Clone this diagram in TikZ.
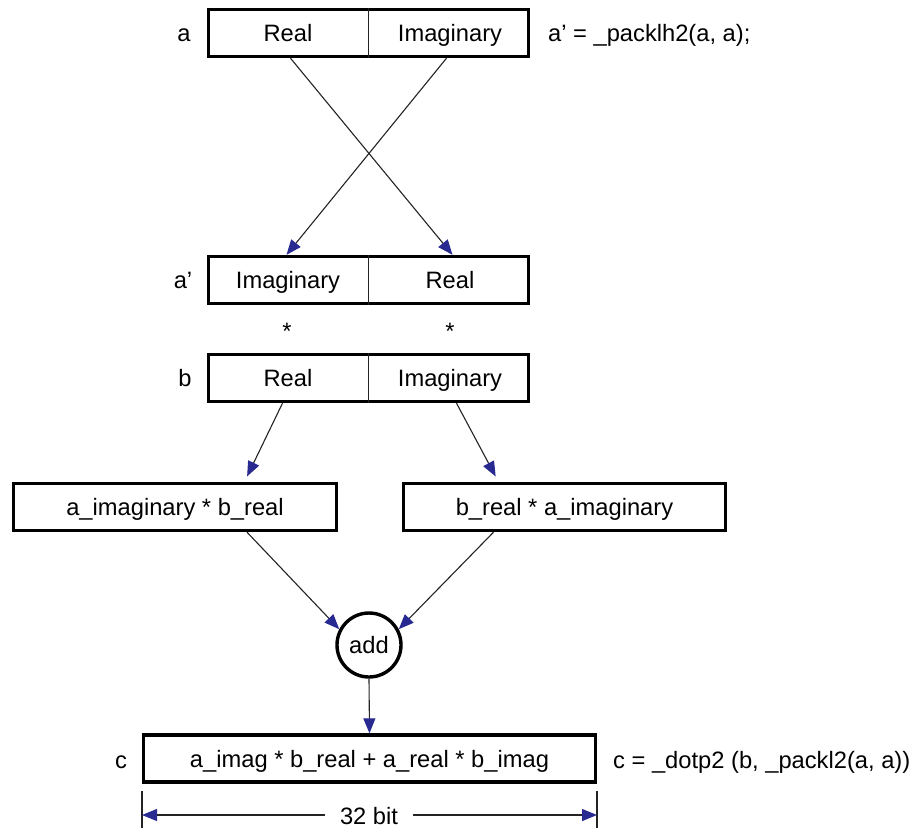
\documentclass[tikz,border=0pt]{standalone}
\usepackage{fontspec}
\setmainfont{Liberation Sans}
\usetikzlibrary{arrows.meta,calc}
\definecolor{arrowblue}{RGB}{40,42,145}
\definecolor{linegray}{RGB}{35,35,35}
\tikzset{
  box/.style={draw=black, line width=3.4pt, minimum height=47pt, inner sep=0pt, fill=white},
  txt/.style={inner sep=0pt, text height=20pt, text depth=3pt, font=\fontsize{23.7}{28}\selectfont},
  divider/.style={draw=linegray, line width=1.1pt},
  conn/.style={draw=linegray, line width=1.1pt, -{Triangle[length=15pt,width=12pt,fill=arrowblue,color=arrowblue]}},
  addcircle/.style={circle, draw=black, line width=3.4pt, minimum size=64pt, inner sep=0pt},
  ticks/.style={draw=linegray, line width=1.1pt}
}
\begin{document}
\begin{tikzpicture}[x=1pt,y=-1pt]
\useasboundingbox (0,0) rectangle (921,828);
% box a
\node[box, minimum width=320pt] (a) at (368.5,33) {};
\draw[divider] (a.north) -- (a.south);
\node[txt] (aRe) at (288,33) {Real};
\node[txt] (aIm) at (450,33) {Imaginary};
\node[txt] (alab) at (184,33) {a};
\node[txt, anchor=west] (acode) at (548,33) {a’ = \_packlh2(a, a);};
% box a'
\node[box, minimum width=320pt] (ap) at (368.5,280) {};
\draw[divider] (ap.north) -- (ap.south);
\node[txt] (apIm) at (288,280) {Imaginary};
\node[txt] (apRe) at (450,280) {Real};
\node[txt] (aplab) at (183,280) {a’};
% asterisks
\node[txt, anchor=base] (st1) at (287,339) {*};
\node[txt, anchor=base] (st2) at (450,339) {*};
% box b
\node[box, minimum width=320pt] (b) at (368.5,378) {};
\draw[divider] (b.north) -- (b.south);
\node[txt] (bRe) at (288,378) {Real};
\node[txt] (bIm) at (450,378) {Imaginary};
\node[txt] (blab) at (185,378) {b};
% product boxes
\node[box, minimum width=323pt] (L) at (175,507) {};
\node[txt] (Ltxt) at (L.center) {a\_imaginary * b\_real};
\node[box, minimum width=322pt] (R) at (564.5,507) {};
\node[txt] (Rtxt) at (R.center) {b\_real * a\_imaginary};
% add
\node[addcircle] (add) at (369,645) {};
\node[txt] (addtxt) at (add.center) {add};
% box c
\node[box, minimum width=452pt] (c) at (369.5,758.5) {};
\node[txt] (ctxt) at (c.center) {a\_imag * b\_real + a\_real * b\_imag};
\node[txt] (clab) at (121,760) {c};
\node[txt, anchor=west] (ccode) at (613,760) {c = \_dotp2 (b, \_packl2(a, a))};
% connectors
\draw[conn] ([xshift=-78pt]a.south) -- ([xshift=84pt]ap.north);
\draw[conn] ([xshift=78pt]a.south) -- ([xshift=-82pt]ap.north);
\draw[conn, shorten >=6pt] ([xshift=-86pt]b.south) -- ([xshift=-124pt]b.south |- L.north);
\draw[conn, shorten >=6pt] ([xshift=88pt]b.south) -- ([xshift=130pt]b.south |- R.north);
\draw[conn] ([xshift=72pt]L.south) -- (add.152);
\draw[conn] ([xshift=-71pt]R.south) -- (add.28);
\draw[conn] (add.south) -- (c.north);
% dimension
\coordinate (tLt) at (142,791);
\coordinate (tLb) at (142,828);
\coordinate (tRt) at (597,791);
\coordinate (tRb) at (597,828);
\draw[ticks] (tLt) -- (tLb);
\draw[ticks] (tRt) -- (tRb);
\node[txt, inner xsep=15pt] (dim) at (369,816) {32 bit};
\coordinate (dL) at (142,815);
\coordinate (dR) at (597,815);
\draw[conn] (dim.west |- dL) -- (dL);
\draw[conn] (dim.east |- dR) -- (dR);
\end{tikzpicture}
\end{document}
